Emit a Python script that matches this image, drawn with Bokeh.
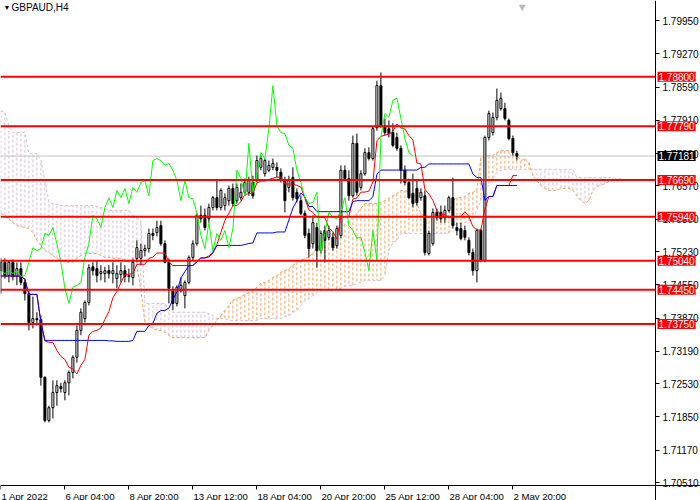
import numpy as np
import pandas as pd
from bokeh.plotting import figure
from bokeh.models import FixedTicker, PrintfTickFormatter, Label, Range1d, LinearAxis
from bokeh.embed import file_html
from bokeh.resources import INLINE

symbol = "GBPAUD,H4"
date_ticks = [0, 16, 32, 48, 64, 80, 96, 112, 128]
date_labels = ["1 Apr 2022", "6 Apr 04:00", "8 Apr 20:00", "13 Apr 12:00", "18 Apr 04:00",
               "20 Apr 20:00", "25 Apr 12:00", "28 Apr 04:00", "2 May 20:00"]
price_ticks = [1.7995, 1.7927, 1.7859, 1.7791, 1.7723, 1.7657, 1.7589, 1.7523,
               1.7455, 1.7387, 1.7319, 1.7253, 1.7185, 1.7117, 1.7051]
levels = [1.7880, 1.7779, 1.7669, 1.7594, 1.7504, 1.7445, 1.7375]
current_price = 1.77181

open_ = [1.7484, 1.7501, 1.7474, 1.7501, 1.7472, 1.7488, 1.7460, 1.7437, 1.7378, 1.7386,
         1.7384, 1.7266, 1.7178, 1.7204, 1.7235, 1.7247, 1.7235, 1.7255, 1.7276, 1.7307,
         1.7362, 1.7386, 1.7419, 1.7492, 1.7488, 1.7478, 1.7478, 1.7484, 1.7478, 1.7468,
         1.7476, 1.7484, 1.7472, 1.7470, 1.7509, 1.7509, 1.7525, 1.7529, 1.7560, 1.7562,
         1.7576, 1.7539, 1.7501, 1.7443, 1.7417, 1.7443, 1.7433, 1.7460, 1.7511, 1.7539,
         1.7597, 1.7597, 1.7590, 1.7613, 1.7633, 1.7613, 1.7617, 1.7627, 1.7652, 1.7627,
         1.7633, 1.7644, 1.7644, 1.7664, 1.7668, 1.7695, 1.7682, 1.7689, 1.7695, 1.7695,
         1.7685, 1.7668, 1.7654, 1.7674, 1.7644, 1.7627, 1.7601, 1.7560, 1.7539, 1.7572,
         1.7525, 1.7566, 1.7552, 1.7552, 1.7535, 1.7556, 1.7689, 1.7672, 1.7637, 1.7744,
         1.7654, 1.7682, 1.7725, 1.7713, 1.7776, 1.7862, 1.7780, 1.7774, 1.7766, 1.7756,
         1.7734, 1.7689, 1.7664, 1.7642, 1.7652, 1.7633, 1.7637, 1.7519, 1.7539, 1.7603,
         1.7603, 1.7593, 1.7607, 1.7633, 1.7572, 1.7570, 1.7566, 1.7546, 1.7521, 1.7484,
         1.7566, 1.7505, 1.7756, 1.7766, 1.7797, 1.7815, 1.7815, 1.7791, 1.7754, 1.7723]
high = [1.7509, 1.7509, 1.7505, 1.7507, 1.7501, 1.7501, 1.7468, 1.7443, 1.7431, 1.7399,
        1.7392, 1.7268, 1.7208, 1.7260, 1.7260, 1.7255, 1.7260, 1.7280, 1.7311, 1.7372,
        1.7407, 1.7423, 1.7497, 1.7501, 1.7505, 1.7495, 1.7492, 1.7495, 1.7501, 1.7495,
        1.7501, 1.7495, 1.7488, 1.7509, 1.7546, 1.7539, 1.7537, 1.7570, 1.7570, 1.7586,
        1.7586, 1.7546, 1.7509, 1.7452, 1.7454, 1.7470, 1.7464, 1.7515, 1.7546, 1.7601,
        1.7617, 1.7611, 1.7621, 1.7637, 1.7668, 1.7652, 1.7642, 1.7658, 1.7662, 1.7662,
        1.7662, 1.7672, 1.7676, 1.7678, 1.7719, 1.7719, 1.7713, 1.7709, 1.7713, 1.7705,
        1.7693, 1.7676, 1.7678, 1.7695, 1.7652, 1.7637, 1.7607, 1.7570, 1.7597, 1.7582,
        1.7566, 1.7576, 1.7576, 1.7562, 1.7576, 1.7699, 1.7699, 1.7689, 1.7760, 1.7764,
        1.7689, 1.7734, 1.7736, 1.7780, 1.7872, 1.7889, 1.7795, 1.7791, 1.7785, 1.7766,
        1.7740, 1.7699, 1.7672, 1.7682, 1.7668, 1.7652, 1.7648, 1.7566, 1.7611, 1.7611,
        1.7617, 1.7617, 1.7637, 1.7674, 1.7582, 1.7582, 1.7576, 1.7552, 1.7529, 1.7570,
        1.7570, 1.7760, 1.7811, 1.7807, 1.7856, 1.7848, 1.7827, 1.7795, 1.7760, 1.7729]
low = [1.7437, 1.7468, 1.7460, 1.7464, 1.7454, 1.7454, 1.7423, 1.7362, 1.7366, 1.7372,
       1.7249, 1.7174, 1.7174, 1.7182, 1.7208, 1.7235, 1.7219, 1.7229, 1.7264, 1.7296,
       1.7352, 1.7378, 1.7413, 1.7474, 1.7460, 1.7464, 1.7460, 1.7468, 1.7458, 1.7448,
       1.7460, 1.7460, 1.7460, 1.7454, 1.7501, 1.7495, 1.7513, 1.7521, 1.7546, 1.7554,
       1.7535, 1.7499, 1.7417, 1.7403, 1.7411, 1.7439, 1.7407, 1.7456, 1.7505, 1.7535,
       1.7582, 1.7566, 1.7582, 1.7607, 1.7607, 1.7607, 1.7607, 1.7617, 1.7615, 1.7621,
       1.7627, 1.7637, 1.7637, 1.7631, 1.7664, 1.7689, 1.7676, 1.7685, 1.7689, 1.7674,
       1.7664, 1.7603, 1.7644, 1.7627, 1.7623, 1.7597, 1.7550, 1.7511, 1.7529, 1.7490,
       1.7519, 1.7501, 1.7546, 1.7525, 1.7529, 1.7550, 1.7668, 1.7627, 1.7633, 1.7637,
       1.7648, 1.7678, 1.7709, 1.7709, 1.7770, 1.7776, 1.7760, 1.7756, 1.7736, 1.7729,
       1.7662, 1.7658, 1.7631, 1.7613, 1.7617, 1.7627, 1.7515, 1.7515, 1.7535, 1.7586,
       1.7582, 1.7582, 1.7603, 1.7570, 1.7556, 1.7546, 1.7546, 1.7515, 1.7474, 1.7460,
       1.7501, 1.7501, 1.7750, 1.7760, 1.7791, 1.7811, 1.7791, 1.7750, 1.7719, 1.7709]
close = [1.7501, 1.7474, 1.7501, 1.7472, 1.7488, 1.7460, 1.7437, 1.7378, 1.7386, 1.7384,
         1.7266, 1.7178, 1.7204, 1.7235, 1.7249, 1.7243, 1.7255, 1.7276, 1.7307, 1.7362,
         1.7399, 1.7419, 1.7490, 1.7484, 1.7474, 1.7482, 1.7484, 1.7478, 1.7484, 1.7478,
         1.7484, 1.7472, 1.7474, 1.7501, 1.7531, 1.7525, 1.7529, 1.7560, 1.7556, 1.7572,
         1.7539, 1.7501, 1.7448, 1.7417, 1.7450, 1.7454, 1.7460, 1.7511, 1.7539, 1.7597,
         1.7590, 1.7572, 1.7613, 1.7633, 1.7613, 1.7648, 1.7633, 1.7652, 1.7621, 1.7654,
         1.7644, 1.7664, 1.7668, 1.7637, 1.7709, 1.7713, 1.7709, 1.7699, 1.7703, 1.7689,
         1.7668, 1.7627, 1.7668, 1.7633, 1.7631, 1.7601, 1.7556, 1.7529, 1.7582, 1.7525,
         1.7560, 1.7546, 1.7566, 1.7531, 1.7570, 1.7689, 1.7672, 1.7637, 1.7744, 1.7644,
         1.7682, 1.7725, 1.7713, 1.7774, 1.7862, 1.7780, 1.7766, 1.7764, 1.7740, 1.7734,
         1.7689, 1.7664, 1.7633, 1.7621, 1.7623, 1.7644, 1.7521, 1.7560, 1.7603, 1.7593,
         1.7590, 1.7607, 1.7633, 1.7576, 1.7566, 1.7550, 1.7552, 1.7521, 1.7484, 1.7566,
         1.7505, 1.7756, 1.7805, 1.7797, 1.7832, 1.7836, 1.7795, 1.7754, 1.7725, 1.7718]

# Ichimoku cloud (Senkou Span A / B), 26 bars ahead of price
span_a = [1.7601, 1.7597, 1.7590, 1.7582, 1.7576, 1.7574, 1.7572, 1.7570, 1.7562, 1.7546,
          1.7535, 1.7525, 1.7521, 1.7515, 1.7509, 1.7505, 1.7501, 1.7501, 1.7501, 1.7509,
          1.7515, 1.7519, 1.7519, 1.7519, 1.7519, 1.7515, 1.7511, 1.7511, 1.7509, 1.7509,
          1.7509, 1.7505, 1.7501, 1.7499, 1.7495, 1.7443, 1.7378, 1.7372, 1.7366, 1.7362,
          1.7362, 1.7358, 1.7352, 1.7347, 1.7347, 1.7347, 1.7347, 1.7347, 1.7347, 1.7347,
          1.7347, 1.7347, 1.7362, 1.7372, 1.7382, 1.7392, 1.7403, 1.7413, 1.7423, 1.7427,
          1.7431, 1.7435, 1.7439, 1.7443, 1.7450, 1.7458, 1.7460, 1.7464, 1.7470, 1.7474,
          1.7480, 1.7484, 1.7488, 1.7495, 1.7501, 1.7505, 1.7509, 1.7511, 1.7521, 1.7529,
          1.7539, 1.7546, 1.7552, 1.7560, 1.7566, 1.7572, 1.7578, 1.7586, 1.7593, 1.7601,
          1.7611, 1.7621, 1.7621, 1.7621, 1.7621, 1.7623, 1.7627, 1.7631, 1.7637, 1.7642,
          1.7648, 1.7648, 1.7644, 1.7631, 1.7621, 1.7601, 1.7595, 1.7595, 1.7595, 1.7595,
          1.7593, 1.7593, 1.7597, 1.7627, 1.7633, 1.7633, 1.7635, 1.7642, 1.7644, 1.7648,
          1.7715, 1.7717, 1.7719, 1.7719, 1.7725, 1.7729, 1.7729, 1.7729, 1.7729, 1.7719,
          1.7709, 1.7713, 1.7705, 1.7678, 1.7668, 1.7658, 1.7652, 1.7648, 1.7648, 1.7648,
          1.7652, 1.7652, 1.7652, 1.7648, 1.7637, 1.7627, 1.7621, 1.7627, 1.7648, 1.7656,
          1.7658, 1.7662, 1.7666, 1.7668, 1.7668, 1.7668]
span_b = [1.7811, 1.7807, 1.7781, 1.7766, 1.7766, 1.7766, 1.7766, 1.7723, 1.7723, 1.7723,
          1.7709, 1.7668, 1.7623, 1.7621, 1.7619, 1.7617, 1.7617, 1.7617, 1.7617, 1.7617,
          1.7617, 1.7617, 1.7617, 1.7617, 1.7615, 1.7613, 1.7611, 1.7607, 1.7607, 1.7607,
          1.7607, 1.7607, 1.7607, 1.7597, 1.7593, 1.7586, 1.7417, 1.7417, 1.7417, 1.7417,
          1.7417, 1.7417, 1.7403, 1.7399, 1.7399, 1.7399, 1.7399, 1.7399, 1.7399, 1.7399,
          1.7399, 1.7399, 1.7396, 1.7392, 1.7386, 1.7386, 1.7386, 1.7382, 1.7382, 1.7382,
          1.7382, 1.7382, 1.7382, 1.7382, 1.7382, 1.7386, 1.7386, 1.7386, 1.7386, 1.7386,
          1.7386, 1.7390, 1.7392, 1.7399, 1.7403, 1.7413, 1.7423, 1.7427, 1.7433, 1.7439,
          1.7443, 1.7443, 1.7443, 1.7443, 1.7448, 1.7448, 1.7452, 1.7454, 1.7454, 1.7458,
          1.7460, 1.7464, 1.7464, 1.7464, 1.7464, 1.7464, 1.7474, 1.7525, 1.7542, 1.7546,
          1.7560, 1.7560, 1.7560, 1.7560, 1.7560, 1.7560, 1.7560, 1.7560, 1.7560, 1.7560,
          1.7560, 1.7560, 1.7560, 1.7576, 1.7580, 1.7580, 1.7582, 1.7586, 1.7590, 1.7607,
          1.7627, 1.7648, 1.7658, 1.7672, 1.7685, 1.7689, 1.7691, 1.7691, 1.7691, 1.7691,
          1.7691, 1.7691, 1.7691, 1.7691, 1.7691, 1.7691, 1.7691, 1.7691, 1.7691, 1.7691,
          1.7691, 1.7691, 1.7691, 1.7691, 1.7674, 1.7674, 1.7674, 1.7674, 1.7674, 1.7674,
          1.7674, 1.7674, 1.7674, 1.7674, 1.7672, 1.7672]

n = len(close)
bars = np.arange(n)
o = np.array(open_); h = np.array(high); l = np.array(low); c = np.array(close)

# Tenkan-sen / Kijun-sen from the bars, Chikou = close shifted back 26 bars
H = pd.Series(h); L = pd.Series(l)
tenkan = ((H.rolling(9, min_periods=1).max() + L.rolling(9, min_periods=1).min()) / 2).values
kijun = ((H.rolling(26, min_periods=1).max() + L.rolling(26, min_periods=1).min()) / 2).values
chikou_x = bars[:n - 26]
chikou_y = c[26:]

# ---- layout: the plot frame fills the whole canvas; axes are pinned inside it
W, HGT = 700, 500
PX_PER_BAR = 4.0
PRICE_PER_PX = 0.0002043
x_start = -0.1
x_end = x_start + W / PX_PER_BAR
y_high = 1.80359
y_low = y_high - HGT * PRICE_PER_PX
axis_x = x_start + 655 / PX_PER_BAR        # right price scale position
axis_y = y_high - 485 * PRICE_PER_PX       # time scale position

p = figure(width=W, height=HGT, output_backend="svg", toolbar_location=None,
           x_range=Range1d(x_start, x_end), y_range=Range1d(y_low, y_high),
           x_axis_location=None, y_axis_location=None,
           min_border_left=0, min_border_top=0, min_border_right=0, min_border_bottom=0)
p.grid.visible = False
p.outline_line_color = None
p.background_fill_color = "white"
p.border_fill_color = "white"

# Cloud hatching
cx = np.arange(len(span_a))
sa = np.array(span_a); sb = np.array(span_b)
cloud_col = np.where(sa >= sb, "#F4A460", "#D8BFD8")
p.segment(x0=cx, y0=sa, x1=cx, y1=sb, line_color=cloud_col, line_width=1, line_dash="3 2")
p.line(cx, sb, line_color="#D8BFD8", line_width=1, line_dash="3 2")
p.line(cx, sa, line_color="#F4A460", line_width=1, line_dash="3 2")

# current price line
p.segment(x0=[x_start], y0=[current_price], x1=[axis_x], y1=[current_price],
          line_color="#C0C0C0", line_width=1)

# Candles
bull = c >= o
body_top = np.maximum(o, c); body_bot = np.minimum(o, c)
fills = np.where(bull, "white", "black")
p.segment(x0=bars, y0=l, x1=bars, y1=h, line_color="black", line_width=1)
p.vbar(x=bars, width=0.5, top=body_top, bottom=body_bot, fill_color=fills,
       line_color="black", line_width=1)

# Ichimoku lines
p.line(bars, tenkan, line_color="#FF0000", line_width=1)
p.line(bars, kijun, line_color="#0000FF", line_width=1)
p.line(chikou_x, chikou_y, line_color="#00FF00", line_width=1)

# Horizontal levels
lv = np.array(levels)
p.segment(x0=np.full(len(lv), x_start), y0=lv, x1=np.full(len(lv), axis_x), y1=lv,
          line_color="#FF0000", line_width=2)

# ---- Time axis (tick marks) + shifted copy carrying the left-aligned labels
LABEL_PX = 9.6
def text_w(s, size=LABEL_PX):
    wd = {" ": 278, ":": 278, "A": 667, "M": 833, "p": 556, "r": 333, "a": 556, "y": 500}
    return sum(wd.get(ch, 556) for ch in s) * size / 1000.0

xa = LinearAxis(fixed_location=axis_y)
xa.ticker = FixedTicker(ticks=date_ticks)
xa.major_label_text_color = None
xa.minor_tick_line_color = None
xa.major_tick_in = 0
xa.major_tick_out = 4
xa.axis_line_color = "black"
xa.major_tick_line_color = "black"
xa.axis_line_width = 1
p.add_layout(xa, "below")

lab_pos = [round(t + (0.5 + text_w(s) / 2.0) / PX_PER_BAR, 3) for t, s in zip(date_ticks, date_labels)]
xl = LinearAxis(fixed_location=axis_y)
xl.ticker = FixedTicker(ticks=lab_pos)
xl.major_label_overrides = {t: s for t, s in zip(lab_pos, date_labels)}
xl.axis_line_color = None
xl.major_tick_line_color = None
xl.minor_tick_line_color = None
xl.major_tick_out = 4
xl.major_label_standoff = 1
xl.major_label_text_font = "Liberation Sans"
xl.major_label_text_font_size = f"{LABEL_PX}px"
xl.major_label_text_color = "black"
p.add_layout(xl, "below")

# ---- Price axis
ya = LinearAxis(fixed_location=axis_x)
ya.ticker = FixedTicker(ticks=price_ticks)
ya.formatter = PrintfTickFormatter(format="%.5f")
ya.minor_tick_line_color = None
ya.major_tick_in = 0
ya.major_tick_out = 4
ya.axis_line_color = "black"
ya.major_tick_line_color = "black"
ya.major_label_text_font = "Liberation Sans"
ya.major_label_text_font_size = "10px"
ya.major_label_text_color = "black"
ya.major_label_standoff = 3
p.add_layout(ya, "right")

# Price tags on the right
for v in levels:
    p.add_layout(Label(x=axis_x, y=v, x_offset=2, text=f"{v:.5f}", text_color="white",
                       background_fill_color="#FF0000", text_font="Liberation Sans",
                       text_font_size="10px", text_baseline="middle", text_align="left",
                       padding=1))
p.add_layout(Label(x=axis_x, y=current_price, x_offset=2, text=f"{current_price:.5f}",
                   text_color="white", background_fill_color="black",
                   text_font="Liberation Sans", text_font_size="10px",
                   text_baseline="middle", text_align="left", padding=1))

# Title and markers
p.add_layout(Label(x=x_start, y=y_high, x_offset=3, y_offset=-3, text="\u25BC",
                   text_font_size="7px", text_color="black", text_baseline="top"))
p.add_layout(Label(x=x_start, y=y_high, x_offset=11, y_offset=-1, text=symbol,
                   text_font="Liberation Sans", text_font_size="10px", text_color="#000020",
                   text_baseline="top"))
p.add_layout(Label(x=n + 0.3, y=y_high, y_offset=0, text="\u25BC", text_font_size="11px",
                   text_color="#B8B8B8", text_baseline="top", text_align="center"))

open("out.html", "w").write(file_html(p, INLINE))
